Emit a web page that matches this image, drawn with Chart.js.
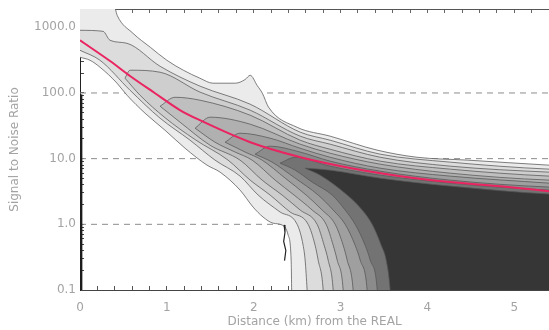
<!DOCTYPE html>
<html>
<head>
<meta charset="utf-8">
<script src="https://cdn.jsdelivr.net/npm/chart.js@4.4.1/dist/chart.umd.min.js"></script>
<style>
  html, body { margin: 0; padding: 0; background: #fff; }
  #wrap { width: 549px; height: 330px; position: relative; }
</style>
</head>
<body>
<div id="wrap"><canvas id="chart"></canvas></div>
<script>
// ── Values: [distance km, signal to noise ratio] ──
const redLine = [[0,634],[0.35,304],[0.58,180],[0.86,100],[1.15,55],[1.38,38.5],[1.96,17.8],[2.54,10.5],[3.11,7.2],[3.69,5.4],[4.26,4.4],[4.84,3.8],[5.40,3.2],[5.45,3.15]];

const upper0 = [[0,2500],[0.38,2400],[0.43,1500],[0.61,811],[0.81,496],[1.00,315],[1.19,222],[1.38,168],[1.53,141],[1.79,141],[1.90,160],[1.96,186],[2.04,130],[2.10,99],[2.17,61],[2.50,30],[2.88,22],[3.42,13.5],[3.88,10.5],[4.46,9.5],[5.40,7.96],[5.45,7.9]];
const lower0 = [[0,350],[0.115,315],[0.23,247],[0.426,141],[0.541,92.5],[0.749,49.2],[0.979,27.1],[1.21,14.4],[1.463,7.96],[1.613,6.23],[1.843,3.32],[1.993,1.83],[2.108,1.29],[2.224,1.04],[2.327,0.975],[2.396,0.69],[2.431,0.286],[2.442,0.05],[5.45,0.05]];

const upper1 = [[0,900],[0.265,869],[0.346,634],[0.541,571],[0.922,255],[1.382,127],[1.959,67.5],[2.535,25.3],[2.88,19.1],[3.456,11.7],[4.263,8.85],[5.403,6.92],[5.45,6.9]];
const lower1 = [[0,447],[0.23,315],[0.576,110],[0.922,41.3],[1.267,19.1],[1.555,9.49],[1.843,5.42],[2.051,2.79],[2.304,1.54],[2.5,1.0],[2.569,0.48],[2.592,0.286],[2.615,0.1],[2.627,0.05],[5.45,0.05]];

const upper2 = [[0.518,168],[0.576,222],[0.922,207],[1.382,103],[1.959,54.7],[2.535,22],[2.88,16.6],[3.456,10.5],[4.263,7.69],[5.403,6.23],[5.45,6.2]];
const lower2 = [[0.518,168],[0.691,92.5],[0.979,42],[1.325,19.5],[1.705,9.49],[1.959,4.71],[2.189,2.79],[2.419,1.54],[2.627,1.0],[2.707,0.48],[2.742,0.286],[2.8,0.1],[2.811,0.05],[5.45,0.05]];

const upper3 = [[0.922,62.9],[1.094,86],[1.382,77.6],[1.959,45.9],[2.535,19.1],[2.88,13.9],[3.456,9.16],[4.263,6.92],[5.403,5.42],[5.45,5.4]];
const lower3 = [[0.922,62.9],[1.152,35.9],[1.498,16],[1.843,9.49],[2.097,4.71],[2.327,2.79],[2.535,1.65],[2.73,1.0],[2.811,0.48],[2.857,0.286],[2.915,0.1],[2.926,0.05],[5.45,0.05]];

const upper4 = [[1.325,29.1],[1.498,42.8],[1.959,33.5],[2.535,16.6],[2.88,12.1],[3.456,8.24],[4.263,6.01],[5.403,4.71],[5.45,4.7]];
const lower4 = [[1.325,29.1],[1.555,17.8],[1.786,12.6],[1.982,9.49],[2.247,4.71],[2.465,2.79],[2.673,1.65],[2.834,1.0],[2.915,0.48],[2.961,0.286],[3.03,0.1],[3.041,0.05],[5.45,0.05]];

const upper5 = [[1.671,17.8],[1.843,24.4],[2.189,20.5],[2.535,14.4],[2.88,10.5],[3.456,7.16],[4.263,5.42],[5.403,4.24],[5.45,4.2]];
const lower5 = [[1.671,17.8],[1.901,12.6],[2.097,9.49],[2.362,5.05],[2.604,2.79],[2.788,1.65],[2.938,1.0],[3.03,0.48],[3.076,0.286],[3.145,0.1],[3.157,0.05],[5.45,0.05]];

const upper6 = [[2.016,11.7],[2.189,15.5],[2.535,12.6],[2.88,9.16],[3.456,6.45],[4.263,4.71],[5.403,3.69],[5.45,3.68]];
const lower6 = [[2.016,11.7],[2.212,8.85],[2.477,5.05],[2.742,2.79],[2.915,1.65],[3.053,1.0],[3.168,0.48],[3.226,0.286],[3.306,0.1],[3.318,0.05],[5.45,0.05]];

const upper7 = [[2.304,8.54],[2.477,10.5],[2.88,7.69],[3.456,5.61],[4.263,4.24],[5.403,3.32],[5.45,3.31]];
const lower7 = [[2.304,8.54],[2.477,6.68],[2.673,4.39],[2.903,2.79],[3.053,1.65],[3.168,1.0],[3.283,0.48],[3.341,0.286],[3.422,0.1],[3.433,0.05],[5.45,0.05]];

const upper8 = [[2.592,7.16],[2.88,6.68],[3.456,5.05],[4.263,3.82],[5.403,2.89],[5.45,2.88]];
const lower8 = [[2.592,7.16],[2.765,5.61],[3.076,2.79],[3.249,1.65],[3.364,1.0],[3.468,0.48],[3.525,0.286],[3.571,0.1],[3.583,0.05],[5.45,0.05]];

const leftEdge = [[0.01,0.1],[0.01,95]];
const spike = [[2.35,0.98],[2.36,0.75],[2.345,0.55],[2.37,0.4],[2.355,0.28]];

const gridLevels = [1, 10, 100];
const yMajor = [0.1, 1, 10, 100, 1000];
const yMinorSteps = [2, 3, 4, 5, 6, 7, 8, 9];

const uppers = [upper0, upper1, upper2, upper3, upper4, upper5, upper6, upper7, upper8];
const lowers = [lower0, lower1, lower2, lower3, lower4, lower5, lower6, lower7, lower8];
const levelColors = ['#ebebeb','#dcdcdc','#cecece','#bfbfbf','#b0b0b0','#9f9f9f','#8b8b8b','#737373','#363636'];

const X_MAX = 5.4;
const Y_MIN = 0.1;
const Y_MAX = 1900;
const textGray = '#a3a3a3';
const contourColor = '#555';

const toPts = arr => arr.map(([x, y]) => ({ x, y }));

// ── Datasets ──
const datasets = [];

datasets.push({
    data: toPts(redLine),
    borderColor: 'rgb(234,36,96)',
    borderWidth: 2,
    cubicInterpolationMode: 'monotone',
    order: 0
});
datasets.push({ data: toPts(leftEdge), borderColor: '#1c1c1c', borderWidth: 3, tension: 0, order: 1 });
datasets.push({ data: toPts(spike), borderColor: '#222', borderWidth: 1.2, tension: 0, order: 2 });

uppers.forEach((up, k) => {
    const upIdx = datasets.length;
    datasets.push({
        data: toPts(up),
        fill: upIdx + 1,
        backgroundColor: levelColors[k],
        borderColor: contourColor,
        borderWidth: 0.75,
        cubicInterpolationMode: 'monotone',
        order: 60 - 2 * k
    });
    datasets.push({
        data: toPts(lowers[k]),
        fill: false,
        borderColor: contourColor,
        borderWidth: 0.75,
        cubicInterpolationMode: 'monotone',
        order: 59 - 2 * k
    });
});

gridLevels.forEach(v => {
    datasets.push({
        data: [{ x: 0, y: v }, { x: X_MAX, y: v }],
        borderColor: '#8c8c8c',
        borderWidth: 1,
        borderDash: [6, 5],
        tension: 0,
        order: 90
    });
});

const yTicks = yMajor.concat(yMajor.flatMap(m => yMinorSteps.map(s => m * s)))
    .filter(v => v >= Y_MIN && v <= Y_MAX)
    .sort((a, b) => a - b);

// fixed box sizes, no extra margin for the tick labels
function fixBox(size, horizontal) {
    return s => {
        if (horizontal) s.height = size; else s.width = size;
        s.paddingLeft = s.paddingRight = s.paddingTop = s.paddingBottom = 0;
    };
}

Chart.defaults.font.family = "'DejaVu Sans', sans-serif";
Chart.defaults.font.size = 12;

new Chart(document.getElementById('chart'), {
    type: 'line',
    data: { datasets },
    options: {
        responsive: true,
        maintainAspectRatio: false,
        animation: false,
        events: [],
        layout: { padding: 0 },
        elements: { point: { radius: 0 } },
        plugins: {
            legend: { display: false },
            tooltip: { enabled: false },
            filler: { propagate: false, drawTime: 'beforeDatasetDraw' }
        },
        scales: {
            x: {
                type: 'linear',
                position: 'bottom',
                min: 0,
                max: X_MAX,
                afterFit: fixBox(40, true),
                grid: { drawOnChartArea: false, tickLength: -4, tickColor: '#555' },
                border: { color: '#444', width: 1 },
                ticks: {
                    stepSize: 0.2,
                    autoSkip: false,
                    maxRotation: 0,
                    padding: 15,
                    color: textGray,
                    callback: v => Math.abs(v - Math.round(v)) < 1e-6 ? String(Math.round(v)) : ''
                },
                title: {
                    display: true,
                    text: 'Distance (km) from the REAL',
                    color: textGray,
                    padding: { top: 0, bottom: 1 }
                }
            },
            x2: {
                type: 'linear',
                position: 'top',
                min: 0,
                max: X_MAX,
                afterFit: fixBox(9, true),
                grid: { drawOnChartArea: false, tickLength: -4, tickColor: '#666' },
                border: { color: '#555', width: 1 },
                ticks: { stepSize: 0.2, autoSkip: false, display: false }
            },
            y: {
                type: 'logarithmic',
                min: Y_MIN,
                max: Y_MAX,
                afterFit: fixBox(80, false),
                afterBuildTicks: s => { s.ticks = yTicks.map(v => ({ value: v })); },
                grid: { drawOnChartArea: false, tickLength: -4, tickColor: '#444' },
                border: { color: '#222', width: 1 },
                ticks: {
                    autoSkip: false,
                    padding: 8,
                    color: textGray,
                    callback: v => yMajor.includes(v) ? v.toFixed(1) : ''
                },
                title: {
                    display: true,
                    text: 'Signal to Noise Ratio',
                    color: textGray,
                    padding: { top: 8, bottom: 0 }
                }
            }
        }
    }
});
</script>
</body>
</html>
